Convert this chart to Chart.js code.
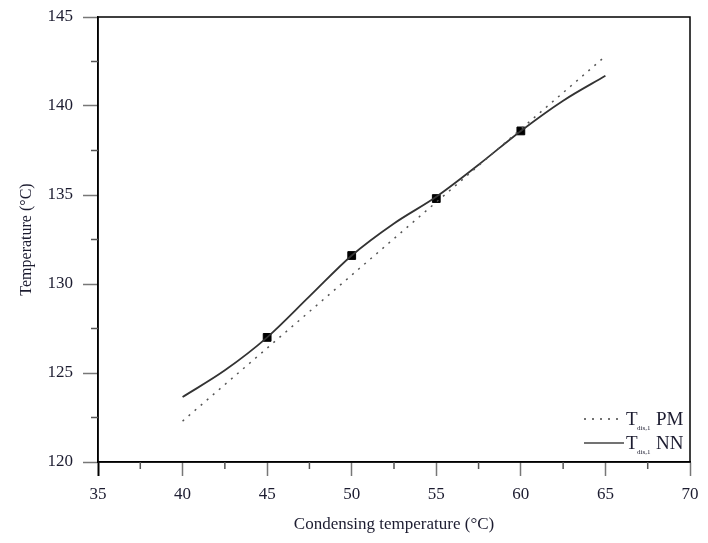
<!DOCTYPE html>
<html>
<head>
<meta charset="utf-8">
<script src="https://cdn.jsdelivr.net/npm/chart.js@4"></script>
<style>
	html, body { margin: 0; padding: 0; background: #fff; }
	#wrap { width: 708px; height: 543px; }
</style>
</head>
<body>
<div id="wrap"><canvas id="chart" width="708" height="543"></canvas></div>
<script>
// condensing temperature (x) and temperatures
const xPM = [40, 65];
const pmValues = [122.3, 142.8];

const xNN = [40, 42.5, 45, 47.5, 50, 52.5, 55, 57.5, 60, 62.5, 65];
const nnValues = [123.65, 125.15, 127.0, 129.3, 131.6, 133.4, 134.9, 136.7, 138.6, 140.3, 141.7];

const xExp = [45, 50, 55, 60];
const expValues = [127.0, 131.6, 134.8, 138.6];

const xTicks = [35, 40, 45, 50, 55, 60, 65, 70];
const yTicks = [120, 125, 130, 135, 140, 145];

const toPts = (xs, ys) => xs.map((x, i) => ({ x: x, y: ys[i] }));
const serif = '"Liberation Serif", "DejaVu Serif", serif';
const textCol = '#1c1c30';

// minor ticks, frame and the subscripted legend
const extras = {
	id: 'extras',
	afterDraw(chart) {
		const ctx = chart.ctx;
		const a = chart.chartArea;
		const xs = chart.scales.x, ys = chart.scales.y;
		ctx.save();
		ctx.strokeStyle = '#000';
		ctx.lineWidth = 1.5;
		ctx.strokeRect(a.left, a.top, a.right - a.left, a.bottom - a.top);

		ctx.strokeStyle = '#555';
		for (let v = 37.5; v < 70; v += 5) {
			const px = xs.getPixelForValue(v);
			ctx.beginPath(); ctx.moveTo(px, a.bottom); ctx.lineTo(px, a.bottom + 7); ctx.stroke();
		}
		for (let v = 122.5; v < 145; v += 5) {
			const py = ys.getPixelForValue(v);
			ctx.beginPath(); ctx.moveTo(a.left, py); ctx.lineTo(a.left - 7, py); ctx.stroke();
		}

		const rows = [
			{ y: 419, dash: [2, 6], label: 'PM' },
			{ y: 443, dash: [], label: 'NN' }
		];
		rows.forEach(r => {
			ctx.strokeStyle = '#444';
			ctx.lineWidth = 1.5;
			ctx.setLineDash(r.dash);
			ctx.beginPath(); ctx.moveTo(584, r.y); ctx.lineTo(624, r.y); ctx.stroke();
			ctx.setLineDash([]);
			ctx.fillStyle = textCol;
			ctx.textBaseline = 'alphabetic';
			ctx.font = '19px ' + serif;
			ctx.fillText('T', 626, r.y + 6);
			ctx.font = '7px ' + serif;
			ctx.fillText('dis,1', 637, r.y + 11);
			ctx.font = '19px ' + serif;
			ctx.fillText(r.label, 656, r.y + 6);
		});
		ctx.restore();
	}
};

new Chart(document.getElementById('chart'), {
	type: 'scatter',
	data: {
		datasets: [
			{
				label: 'PM',
				data: toPts(xPM, pmValues),
				showLine: true,
				borderColor: '#555',
				borderWidth: 1.5,
				borderDash: [2, 6],
				pointRadius: 0,
				fill: false
			},
			{
				label: 'NN',
				data: toPts(xNN, nnValues),
				showLine: true,
				borderColor: '#333',
				borderWidth: 1.8,
				cubicInterpolationMode: 'monotone',
				pointRadius: 0,
				fill: false
			},
			{
				label: 'Data',
				data: toPts(xExp, expValues),
				showLine: false,
				pointStyle: 'rect',
				pointRadius: 5.5,
				backgroundColor: '#000',
				borderColor: '#000'
			}
		]
	},
	options: {
		responsive: false,
		animation: false,
		layout: { padding: { top: 17, right: 18, left: 0, bottom: 0 } },
		plugins: { legend: { display: false }, tooltip: { enabled: false } },
		scales: {
			x: {
				type: 'linear',
				min: 35, max: 70,
				afterBuildTicks: s => { s.ticks = xTicks.map(v => ({ value: v })); },
				afterFit: s => { s.height = 81; s.paddingLeft = 0; s.paddingRight = 0; },
				border: { color: '#000', width: 1.5 },
				grid: { drawOnChartArea: false, tickLength: 14, tickColor: c => c.index === 0 ? '#000' : '#777', tickWidth: c => c.index === 0 ? 2 : 1.5 },
				ticks: { color: textCol, font: { family: serif, size: 17 }, padding: 8 },
				title: { display: true, text: 'Condensing temperature (°C)', color: textCol, font: { family: serif, size: 17 }, padding: { top: 4, bottom: 8 } }
			},
			y: {
				type: 'linear',
				min: 120, max: 145,
				afterBuildTicks: s => { s.ticks = yTicks.map(v => ({ value: v })); },
				afterFit: s => { s.width = 98; s.paddingTop = 0; s.paddingBottom = 0; },
				border: { color: '#000', width: 1.5 },
				grid: { drawOnChartArea: false, tickLength: 15, tickColor: '#777', tickWidth: 1.5 },
				ticks: { color: textCol, font: { family: serif, size: 17 }, padding: 10 },
				title: { display: true, text: 'Temperature (°C)', color: textCol, font: { family: serif, size: 16 }, padding: { top: 17, bottom: 0 } }
			}
		}
	},
	plugins: [extras]
});
</script>
</body>
</html>
